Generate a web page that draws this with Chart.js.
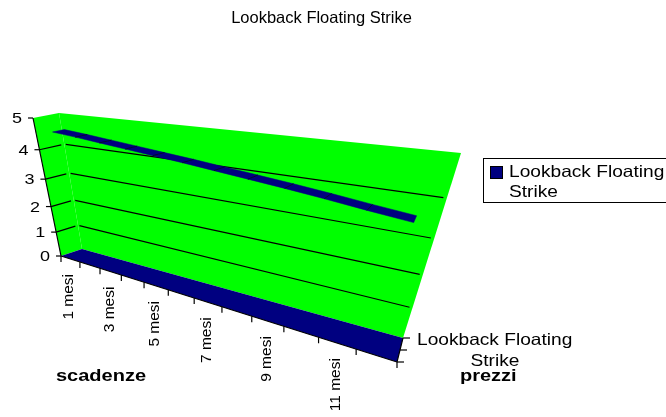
<!DOCTYPE html>
<html>
<head>
<meta charset="utf-8">
<title>Lookback Floating Strike</title>
<script src="https://cdn.jsdelivr.net/npm/chart.js@4"></script>
<style>
  body { margin: 0; background: #fff; }
  canvas { display: block; }
</style>
</head>
<body>
<canvas id="grafico" width="666" height="417"></canvas>
<script>
// dati
const categorie = ['1 mesi', '2 mesi', '3 mesi', '4 mesi', '5 mesi', '6 mesi', '7 mesi', '8 mesi', '9 mesi', '10 mesi', '11 mesi', '12 mesi'];
const prezziLookback = [4.57, 4.5, 4.42, 4.34, 4.26, 4.18, 4.09, 4.0, 3.91, 3.81, 3.7, 3.6];
const tickValori = [0, 1, 2, 3, 4, 5];
const nomeSerie = 'Lookback Floating Strike';

const FONT = '"Liberation Sans", Arial, sans-serif';

// angoli della scatola 3D: piano di fondo e piano frontale
const fondo = { bl: [82, 249], br: [403, 338], tr: [461, 153], tl: [59, 113] };
const fronte = { bl: [61, 256], br: [397, 362], tr: [460, 163], tl: [33, 118] };

// omografia quadrato unitario -> quadrilatero
function omografia(q) {
  const [x0, y0] = q.bl, [x1, y1] = q.br, [x2, y2] = q.tr, [x3, y3] = q.tl;
  const dx1 = x1 - x2, dx2 = x3 - x2, sx = x0 - x1 + x2 - x3;
  const dy1 = y1 - y2, dy2 = y3 - y2, sy = y0 - y1 + y2 - y3;
  const det = dx1 * dy2 - dx2 * dy1;
  const g = (sx * dy2 - dx2 * sy) / det;
  const h = (dx1 * sy - sx * dy1) / det;
  const a = x1 - x0 + g * x1, b = x3 - x0 + h * x3;
  const d = y1 - y0 + g * y1, e = y3 - y0 + h * y3;
  return (u, v) => {
    const w = g * u + h * v + 1;
    return [(a * u + b * v + x0) / w, (d * u + e * v + y0) / w];
  };
}
const hFondo = omografia(fondo);
const hFronte = omografia(fronte);

// u = asse categorie, v = asse valori, z = profondita (0 davanti, 1 dietro)
function proietta(u, v, z) {
  const p = hFronte(u, v), q = hFondo(u, v);
  return [p[0] + (q[0] - p[0]) * z, p[1] + (q[1] - p[1]) * z];
}

function poligono(ctx, punti, colore) {
  ctx.beginPath();
  punti.forEach((p, i) => i ? ctx.lineTo(p[0], p[1]) : ctx.moveTo(p[0], p[1]));
  ctx.closePath();
  ctx.fillStyle = colore;
  ctx.fill();
}

function linea(ctx, a, b, spessore = 1.2) {
  ctx.beginPath();
  ctx.moveTo(a[0], a[1]);
  ctx.lineTo(b[0], b[1]);
  ctx.lineWidth = spessore;
  ctx.strokeStyle = '#000';
  ctx.stroke();
}

// il testo originale e' allargato in orizzontale
function testo(ctx, str, x, y, o = {}) {
  ctx.save();
  ctx.translate(x, y);
  if (o.rot) ctx.rotate(o.rot);
  ctx.scale(o.stretch || 1, 1);
  ctx.font = (o.bold ? 'bold ' : '') + (o.size || 16) + 'px ' + FONT;
  ctx.textAlign = o.align || 'left';
  ctx.textBaseline = 'alphabetic';
  ctx.fillStyle = '#000';
  ctx.fillText(str, 0, 0);
  ctx.restore();
}

const scatola3D = {
  id: 'scatola3D',
  beforeDatasetsDraw(chart) {
    const { ctx, scales: { x, y } } = chart;
    const uDi = (i) => (x.getPixelForValue(i) - x.left) / x.width;
    const vDi = (val) => (y.bottom - y.getPixelForValue(val)) / y.height;

    ctx.save();

    // pareti e pavimento
    poligono(ctx, [proietta(0, 1, 0), proietta(0, 1, 1), proietta(0, 0, 1), proietta(0, 0, 0)], '#00FF00');
    poligono(ctx, [proietta(0, 1, 1), proietta(1, 1, 1), proietta(1, 0, 1), proietta(0, 0, 1)], '#00FF00');
    poligono(ctx, [proietta(0, 0, 0), proietta(0, 0, 1), proietta(1, 0, 1), proietta(1, 0, 0)], '#000080');

    // griglia
    tickValori.slice(1, -1).forEach((val) => {
      const v = vDi(val);
      linea(ctx, proietta(0, v, 0), proietta(0, v, 0.88));
      linea(ctx, proietta(0.006, v, 1), proietta(0.994, v, 1));
    });

    // nastro della serie, dai punti calcolati dalle scale
    const punti = chart.getDatasetMeta(0).data;
    const zDietro = 0.7, zDavanti = 0.24;
    for (let i = 0; i < punti.length - 1; i++) {
      const u0 = (punti[i].x - x.left) / x.width, u1 = (punti[i + 1].x - x.left) / x.width;
      const v0 = (y.bottom - punti[i].y) / y.height, v1 = (y.bottom - punti[i + 1].y) / y.height;
      poligono(ctx, [proietta(u0, v0, zDavanti), proietta(u0, v0, zDietro), proietta(u1, v1, zDietro), proietta(u1, v1, zDavanti)], '#000080');
      ctx.strokeStyle = '#000080';
      ctx.lineWidth = 0.5;
      ctx.stroke();
      if (i > 0) linea(ctx, proietta(u0, v0, zDavanti), proietta(u0, v0, zDietro), 0.6);
    }

    // asse valori
    linea(ctx, proietta(0, 0, 0), proietta(0, 1, 0));
    tickValori.forEach((val) => {
      const p = proietta(0, vDi(val), 0);
      linea(ctx, [p[0] - 5, p[1]], p);
      testo(ctx, String(val), p[0] - 11, p[1] + 5, { size: 15, stretch: 1.2, align: 'right' });
    });

    // asse categorie
    linea(ctx, proietta(0, 0, 0), proietta(1, 0, 0));
    for (let i = 0; i <= categorie.length; i++) {
      const p = proietta(i / categorie.length, 0, 0);
      linea(ctx, p, [p[0], p[1] + 6]);
    }
    categorie.forEach((c, i) => {
      if (i % 2) return;
      const p = proietta(uDi(i), 0, 0);
      testo(ctx, c, p[0] + 3, p[1] + 15, { size: 15.5, rot: -Math.PI / 2, align: 'right' });
    });

    // asse profondita
    [0, 0.5, 1].forEach((z) => {
      const p = proietta(1, 0, z);
      linea(ctx, p, [p[0] + 7, p[1]]);
    });
    linea(ctx, proietta(1, 0, 0), proietta(1, 0, 1));

    // etichette assi
    testo(ctx, 'Lookback Floating', 417, 345, { size: 16.5, stretch: 1.16 });
    testo(ctx, 'Strike', 495, 366, { size: 16.5, stretch: 1.16, align: 'center' });
    testo(ctx, 'scadenze', 56, 381, { size: 16, stretch: 1.25, bold: true });
    testo(ctx, 'prezzi', 460, 381, { size: 16, stretch: 1.25, bold: true });

    // legenda
    ctx.strokeStyle = '#000';
    ctx.lineWidth = 1;
    ctx.strokeRect(483.5, 158.5, 200, 44);
    ctx.fillStyle = '#000080';
    ctx.fillRect(491, 167, 11, 11);
    ctx.strokeRect(490.5, 166.5, 12, 12);
    const parole = chart.data.datasets[0].label;
    testo(ctx, parole.slice(0, 17), 509, 177, { size: 16.5, stretch: 1.16 });
    testo(ctx, parole.slice(18), 509, 197, { size: 16.5, stretch: 1.16 });

    ctx.restore();
  }
};

new Chart(document.getElementById('grafico'), {
  type: 'line',
  data: {
    labels: categorie,
    datasets: [{
      label: nomeSerie,
      data: prezziLookback,
      backgroundColor: '#000080',
      borderColor: '#000080',
      showLine: false,
      pointRadius: 0
    }]
  },
  options: {
    responsive: false,
    animation: false,
    layout: { padding: { right: 23 } },
    plugins: {
      legend: { display: false },
      tooltip: { enabled: false },
      title: {
        display: true,
        text: nomeSerie,
        fullSize: false,
        color: '#000',
        font: { family: FONT, size: 16.5, weight: 'normal' },
        padding: { top: 9, bottom: 0 }
      }
    },
    scales: {
      x: { type: 'category', offset: true, display: false },
      y: { type: 'linear', min: 0, max: 5, display: false }
    }
  },
  plugins: [scatola3D]
});
</script>
</body>
</html>
